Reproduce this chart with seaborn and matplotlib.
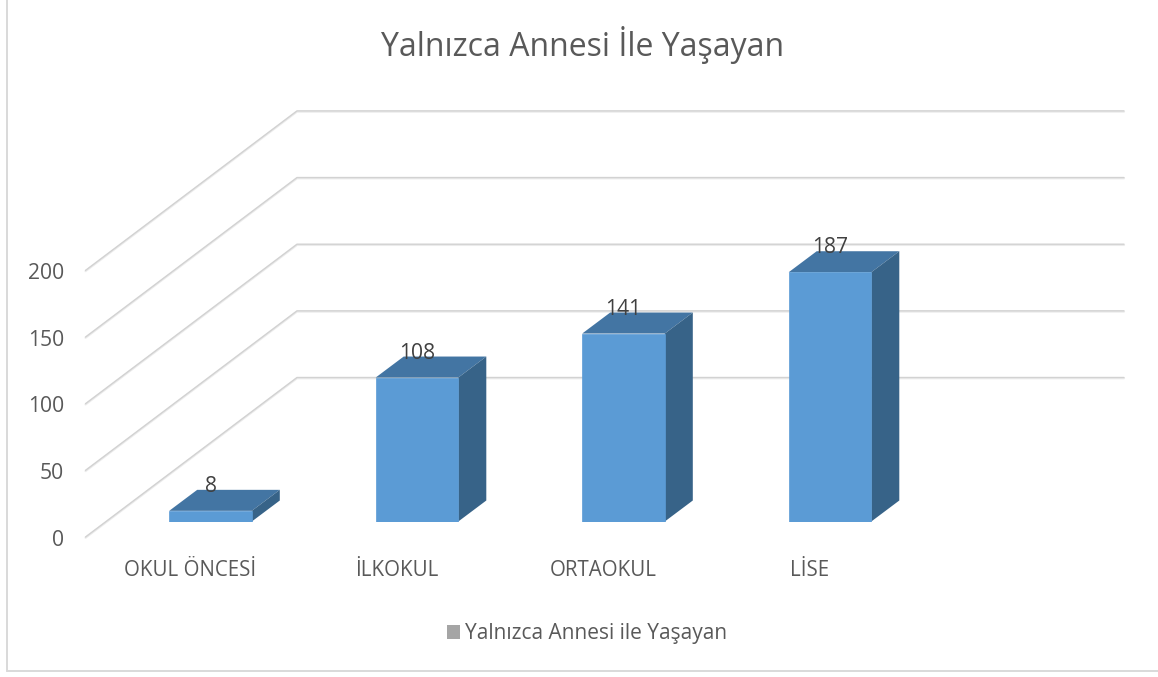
import matplotlib
matplotlib.use('Agg')
import matplotlib.pyplot as plt
import seaborn as sns
from matplotlib.lines import Line2D
from matplotlib.patches import Patch, Polygon
from matplotlib.transforms import Affine2D, IdentityTransform

kategoriler = ['OKUL ÖNCESİ', 'İLKOKUL', 'ORTAOKUL', 'LİSE']
degerler = [8, 108, 141, 187]
y_etiketler = [0, 50, 100, 150, 200]
baslik = 'Yalnızca Annesi İle Yaşayan'
seri_adi = 'Yalnızca Annesi ile Yaşayan'

W, H = 1158, 677
PX_UNIT = 1.333   # pixel per value
STEP = 206.5      # pixel between categories

sns.set_style('white')
plt.rcParams['font.family'] = ['Open Sans', 'DejaVu Sans']

fig = plt.figure(figsize=(W / 100, H / 100), dpi=100)
px = Affine2D().scale(1, -1).translate(0, H)  # image pixels -> display


def eksen(left, right, bottom, top, x0):
    # axes placed in image pixels, x0 = pixel of the first category
    a = fig.add_axes([left / W, 1 - bottom / H, (right - left) / W, (bottom - top) / H])
    a.set_xlim((left - x0) / STEP, (right - x0) / STEP)
    a.set_ylim(0, (bottom - top) / PX_UNIT)
    a.patch.set_visible(False)
    sns.despine(ax=a, left=True, bottom=True)
    return a


# front plane: tick labels
ax_on = eksen(85, 1124, 537.5, 90, 190)
ax_on.set_xticks(range(len(kategoriler)), kategoriler, fontsize=14.8, color='#595959')
ax_on.set_yticks(y_etiketler, y_etiketler, fontsize=15.2, color='#595959')
ax_on.tick_params(axis='x', length=0, pad=16.5)
ax_on.tick_params(axis='y', length=0, pad=15)

# gridlines of the floor, side wall and back wall
for v in y_etiketler:
    d = v * PX_UNIT
    xs = [85.5, 297, 1124]
    ys = [537 - d, 377.5 - d, 377.5 - d]
    ax_on.add_line(Line2D(xs, [y + 0.8 for y in ys], color='#EBEBEB', lw=1.5, transform=px, clip_on=False))
    ax_on.add_line(Line2D(xs, ys, color='#D2D2D2', lw=1.0, transform=px, clip_on=False))

# bars
ax = eksen(85, 1124, 521.5, 90, 210.5)
sns.barplot(x=kategoriler, y=degerler, color='#5B9BD5', saturation=1, width=0.4, ax=ax, zorder=3,
            edgecolor='#5B9BD5', linewidth=0.5)
ax.set_xlim((85 - 210.5) / STEP, (1124 - 210.5) / STEP)
ax.set_ylim(0, (521.5 - 90) / PX_UNIT)
ax.set_xticks([])
ax.set_yticks([])
ax.set_xlabel('')
ax.set_ylabel('')

# 3d depth of the bars
dx, dy = 28, 21
fig.canvas.draw()
for bar in list(ax.patches):
    (x0, y0), (x1, y1) = ax.transData.transform(bar.get_bbox().get_points())
    ust = [(x0, y1), (x1, y1), (x1 + dx, y1 + dy), (x0 + dx, y1 + dy)]
    yan = [(x1, y0), (x1, y1), (x1 + dx, y1 + dy), (x1 + dx, y0 + dy)]
    ax.add_patch(Polygon(ust, closed=True, fc='#4375A3', ec='none', transform=IdentityTransform(), zorder=2))
    ax.add_patch(Polygon(yan, closed=True, fc='#376388', ec='none', transform=IdentityTransform(), zorder=2))

ax.bar_label(ax.containers[0], labels=[str(d) for d in degerler], padding=10,
             fontsize=15.2, color='#404040', zorder=6)

fig.text(583 / W, 1 - 45 / H, baslik, ha='center', va='center', fontsize=23, color='#595959')

ax_on.legend(handles=[Patch(fc='#A5A5A5', ec='none', label=seri_adi)], loc='center',
             bbox_to_anchor=(587 / W, 1 - 634 / H), bbox_transform=fig.transFigure, frameon=False,
             fontsize=15, labelcolor='#595959', handlelength=0.65, handleheight=0.65, handletextpad=0.25)

# chart border, open at the top and on the right
for xs, ys in [([7, 7], [0, 671]), ([7, 1158], [671, 671])]:
    fig.add_artist(Line2D(xs, ys, color='#D9D9D9', lw=1.4, transform=px))

fig.savefig('out.png', dpi=100)
